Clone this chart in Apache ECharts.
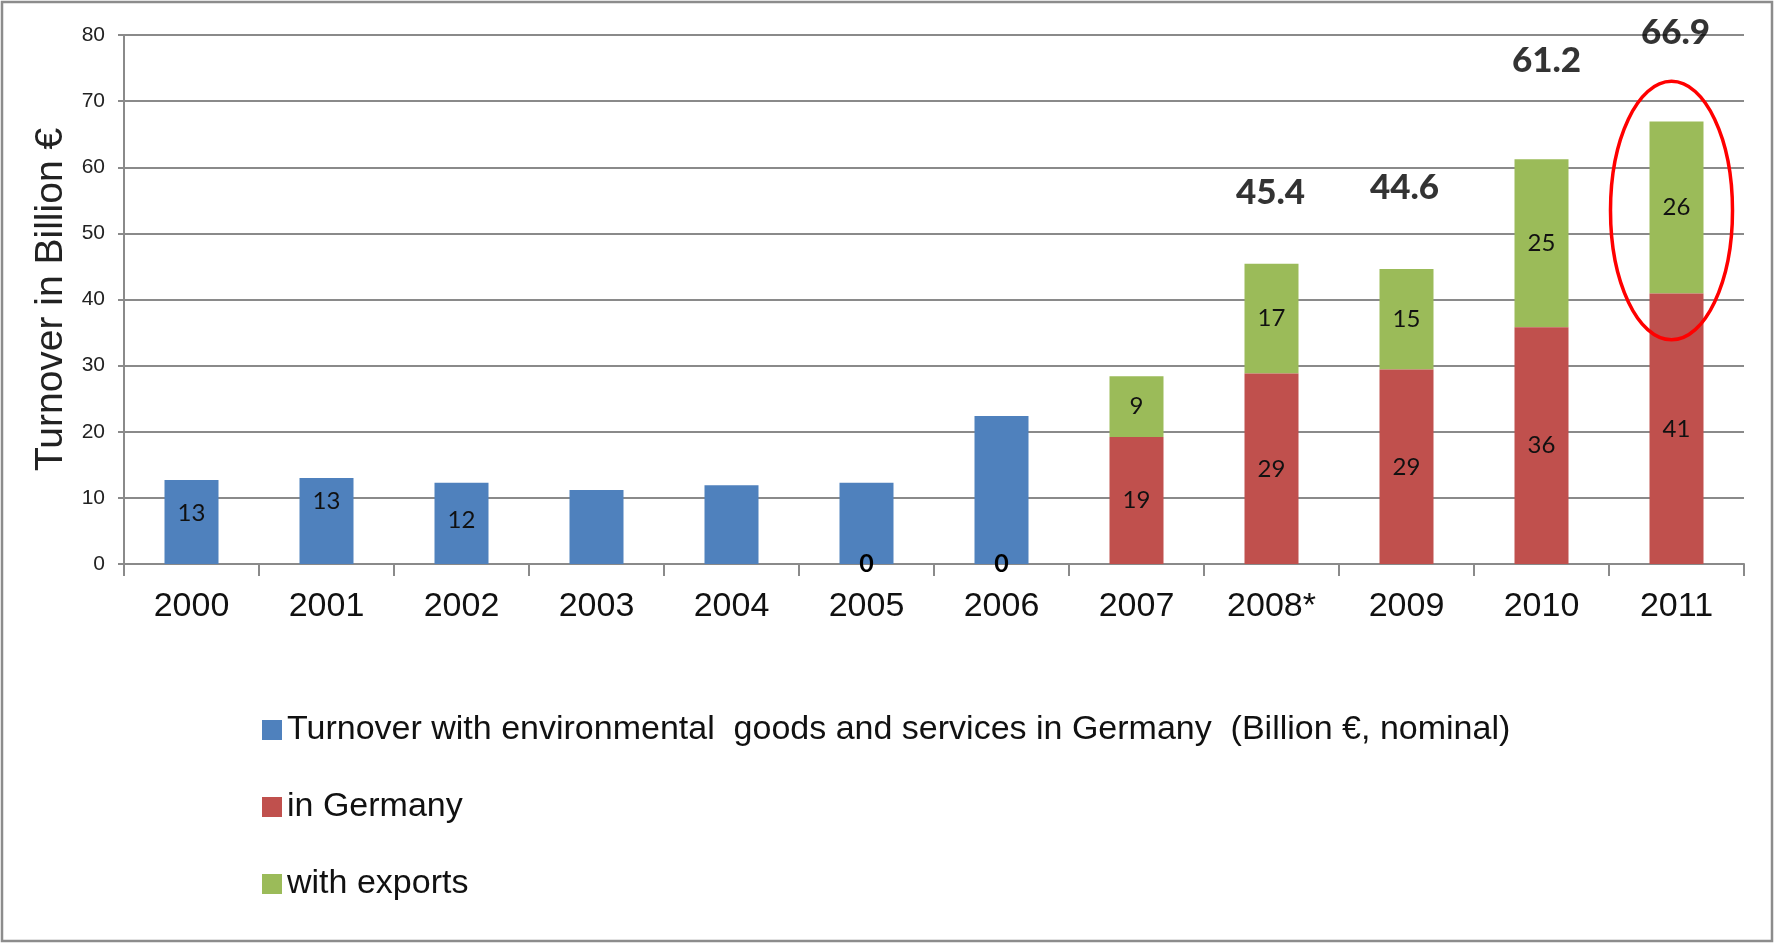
<!DOCTYPE html>
<html>
<head>
<meta charset="utf-8">
<script src="https://cdn.jsdelivr.net/npm/echarts@6/dist/echarts.min.js"></script>
<style>
  html, body { margin: 0; padding: 0; background: #ffffff; }
  #chart { width: 1774px; height: 943px; }
</style>
</head>
<body>
<div id="chart"></div>
<script>
// ---- data ----
const categories = ['2000', '2001', '2002', '2003', '2004', '2005', '2006', '2007', '2008*', '2009', '2010', '2011'];
const turnoverGermany = [12.7, 13.0, 12.3, 11.2, 11.9, 12.3, 22.4, null, null, null, null, null];
const inGermany = [null, null, null, null, null, 0, 0, 19.2, 28.8, 29.4, 35.8, 40.9];
const withExports = [null, null, null, null, null, null, null, 9.2, 16.6, 15.2, 25.4, 26.0];
const totals = [null, null, null, null, null, null, null, null, 45.4, 44.6, 61.2, 66.9];
const blueLabelShown = [true, true, true, false, false, false, false, false, false, false, false, false];
const seriesNames = [
  'Turnover with environmental  goods and services in Germany  (Billion €, nominal)',
  'in Germany',
  'with exports'
];
const yAxisTitle = 'Turnover in Billion €';

// ---- styling (not data) ----
const totalLabelOffsets = [null, null, null, null, null, null, null, null, [-1, -71], [-2, -81], [5, -99], [-1, -89]];
const blueLabelOffsets = [[0, -9], [0, -20], [0, -3]];
const colors = ['#4F81BD', '#C0504D', '#9BBB59'];
const gridColor = '#8a8a8a';
const labelFont = 'Lato, "Open Sans", sans-serif';
const axisFont = '"Liberation Sans", Arial, sans-serif';

const chart = echarts.init(document.getElementById('chart'), null, { renderer: 'canvas' });

const insideLabel = {
  show: true,
  position: 'inside',
  color: '#111',
  fontFamily: labelFont,
  fontSize: 24,
  formatter: p => String(Math.round(p.value))
};

const option = {
  animation: false,
  backgroundColor: '#ffffff',
  grid: { left: 124, right: 30, top: 35, bottom: 379, containLabel: false },
  legend: {
    orient: 'vertical',
    left: 262,
    top: 713,
    padding: 0,
    itemGap: 43,
    itemWidth: 20,
    itemHeight: 20,
    icon: 'rect',
    data: seriesNames,
    textStyle: { fontFamily: axisFont, fontSize: 34, lineHeight: 34, color: '#111' },
    selectedMode: false
  },
  xAxis: {
    type: 'category',
    data: categories,
    axisLine: { lineStyle: { color: gridColor, width: 2 } },
    axisTick: { show: true, length: 12, lineStyle: { color: gridColor, width: 2 } },
    axisLabel: { fontFamily: axisFont, fontSize: 34, color: '#111', margin: 26, interval: 0 }
  },
  yAxis: {
    type: 'value',
    min: 0,
    max: 80,
    interval: 10,
    name: yAxisTitle,
    nameLocation: 'middle',
    nameGap: 38,
    nameTextStyle: { fontFamily: axisFont, fontSize: 39, color: '#222' },
    axisLine: { show: true, lineStyle: { color: gridColor, width: 2 } },
    axisTick: { show: true, length: 6, lineStyle: { color: gridColor, width: 2 } },
    axisLabel: { fontFamily: axisFont, fontSize: 21, color: '#222', margin: 19 },
    splitLine: { show: true, lineStyle: { color: gridColor, width: 2 } }
  },
  series: [
    {
      name: seriesNames[0],
      type: 'bar',
      barWidth: '40%',
      barGap: '-100%',
      itemStyle: { color: colors[0] },
      data: turnoverGermany.map((v, i) => ({
        value: v,
        label: Object.assign({}, insideLabel, {
          show: blueLabelShown[i],
          offset: blueLabelOffsets[i] || [0, 0]
        })
      }))
    },
    {
      name: seriesNames[1],
      type: 'bar',
      stack: 'split',
      barWidth: '40%',
      barGap: '-100%',
      itemStyle: { color: colors[1] },
      z: 3,
      data: inGermany.map(v => ({
        value: v,
        label: Object.assign({}, insideLabel, v === 0 ? { fontWeight: 'bold', fontSize: 25, color: '#000' } : {})
      }))
    },
    {
      name: seriesNames[2],
      type: 'bar',
      stack: 'split',
      barWidth: '40%',
      barGap: '-100%',
      itemStyle: { color: colors[2] },
      label: insideLabel,
      data: withExports
    },
    {
      name: 'totals',
      type: 'scatter',
      symbolSize: 2,
      itemStyle: { color: 'rgba(0,0,0,0)' },
      z: 10,
      data: totals.map((v, i) => ({
        value: v,
        label: {
          show: v !== null,
          position: 'inside',
          offset: totalLabelOffsets[i] || [0, 0],
          formatter: p => (p.value === null || p.value === undefined) ? '' : Number(p.value).toFixed(1),
          fontFamily: labelFont,
          fontWeight: 900,
          fontSize: 35,
          color: '#000'
        }
      }))
    }
  ]
};

chart.setOption(option);

// annotation ellipse around the 2011 exports segment and outer frame
const lastCat = categories[categories.length - 1];
const pTop = chart.convertToPixel({ xAxisIndex: 0, yAxisIndex: 0 }, [lastCat, 73.0]);
const pBot = chart.convertToPixel({ xAxisIndex: 0, yAxisIndex: 0 }, [lastCat, 33.9]);
chart.setOption({
  graphic: [
    {
      type: 'ellipse',
      shape: { cx: pTop[0] - 5, cy: (pTop[1] + pBot[1]) / 2, rx: 61, ry: (pBot[1] - pTop[1]) / 2 },
      style: { fill: 'none', stroke: '#ff0000', lineWidth: 3.5 },
      z: 100
    },
    {
      type: 'rect',
      shape: { x: 2, y: 2, width: 1770, height: 939 },
      style: { fill: 'none', stroke: '#8c8c8c', lineWidth: 2.5 },
      z: 100
    }
  ]
});
</script>
</body>
</html>
